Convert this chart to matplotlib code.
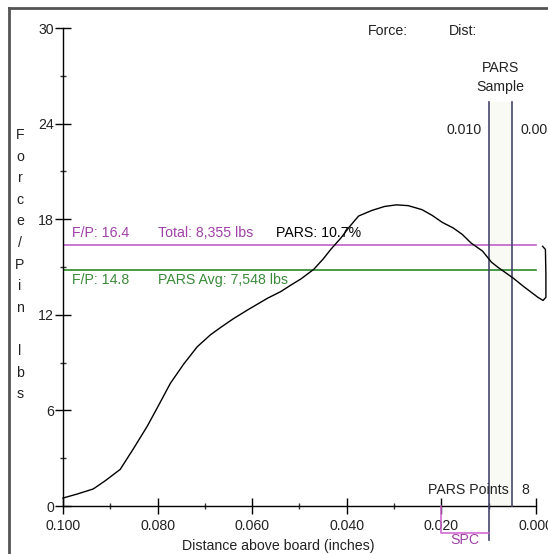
import matplotlib
matplotlib.use("Agg")
import matplotlib.pyplot as plt
from matplotlib.lines import Line2D
import numpy as np

# ---- data ----
dist = [0.1000, 0.0970, 0.0936, 0.0910, 0.0879, 0.0851, 0.0822, 0.0800, 0.0773,
        0.0745, 0.0716, 0.0688, 0.0667, 0.0640, 0.0610, 0.0567, 0.0540, 0.0519,
        0.0497, 0.0470, 0.0450, 0.0434, 0.0413, 0.0395, 0.0375, 0.0347, 0.0320,
        0.0295, 0.0270, 0.0241, 0.0220, 0.0198, 0.0175, 0.0156, 0.0137, 0.0113,
        0.0094, 0.0079, 0.0067, 0.0048, 0.0025, -0.0004, -0.0015, -0.0021,
        -0.0021, -0.0020, -0.0014]
force = [0.5, 0.75, 1.07, 1.6, 2.3, 3.6, 5.0, 6.2, 7.7,
         8.9, 10.0, 10.75, 11.2, 11.75, 12.3, 13.05, 13.45, 13.85,
         14.25, 14.85, 15.5, 16.1, 16.8, 17.5, 18.2, 18.55, 18.8,
         18.9, 18.85, 18.6, 18.25, 17.8, 17.45, 17.05, 16.5, 16.0,
         15.3, 14.95, 14.7, 14.3, 13.75, 13.1, 12.9, 13.1,
         14.5, 16.1, 16.3]

total_fp = 16.4
avg_fp = 14.8
sample_window = [0.010, 0.005]
spc_range = [0.020, 0.010]
xticks = [0.100, 0.080, 0.060, 0.040, 0.020, 0.000]
xtick_labels = ["0.100", "0.080", "0.060", "0.040", "0.020", "0.000"]
yticks = [0, 6, 12, 18, 24, 30]

W, H = 548, 554
FONT = "Liberation Sans"
FS = 10.2
TXT = "#222222"
MAG_LINE = "#c060c8"
MAG_TXT = "#a040a8"
GRN_LINE = "#2a8a2a"
GRN_TXT = "#3a8a3a"
VLINE = "#45456e"

fig = plt.figure(figsize=(W / 100, H / 100), dpi=100)
fig.patch.set_facecolor("white")

ax_l, ax_r, ax_t, ax_b = 63, 548, 28, 506
ax = fig.add_axes([ax_l / W, 1 - ax_b / H, (ax_r - ax_l) / W, (ax_b - ax_t) / H])
ax.set_facecolor("none")
px_per_x = 4715.0
ax.set_xlim(0.100, 0.000 - (ax_r - 536) / px_per_x)
ax.set_ylim(0, 30)

for s in ["top", "right"]:
    ax.spines[s].set_visible(False)
ax.spines["bottom"].set_bounds(0.100, 0.000)
ax.spines["left"].set_bounds(0, 30)
ax.spines["bottom"].set_linewidth(1.0)
ax.spines["left"].set_linewidth(1.0)

ax.set_xticks(xticks)
ax.set_xticklabels(xtick_labels, fontfamily=FONT, fontsize=FS, color=TXT)
ax.set_xticks([0.09, 0.07, 0.05, 0.03, 0.01], minor=True)
ax.set_yticks(yticks)
ax.set_yticklabels([str(v) for v in yticks], fontfamily=FONT, fontsize=FS, color=TXT)
ax.set_yticks([3, 9, 15, 21, 27], minor=True)
ax.tick_params(axis="both", which="major", direction="inout", length=11, width=1.0, color="black")
ax.tick_params(axis="both", which="minor", direction="inout", length=5, width=1.0, color="#333333")
ax.tick_params(axis="y", which="major", pad=1)
ax.tick_params(axis="x", which="major", pad=4)

# shaded sample column
ytop_lines = (ax_b - 102) / ((ax_b - ax_t) / 30)
ax.fill_between(sample_window, [0, 0], [ytop_lines, ytop_lines], color="#fafaf5", zorder=0, lw=0)

# horizontal lines
ax.plot([0.100, 0.000], [total_fp, total_fp], color=MAG_LINE, lw=1.2, zorder=2)
ax.plot([0.100, 0.000], [avg_fp, avg_fp], color=GRN_LINE, lw=1.2, zorder=2)

# vertical sample lines
ax.plot([sample_window[0]] * 2, [ytop_lines, -2.15], color=VLINE, lw=1.2, clip_on=False, zorder=3)
ax.plot([sample_window[1]] * 2, [ytop_lines, 0], color=VLINE, lw=1.2, clip_on=False, zorder=3)

# curve
ax.plot(dist, force, color="black", lw=1.0, zorder=4, clip_on=False)

# SPC bracket
ax.plot([spc_range[0], spc_range[0], spc_range[1]], [0, -1.7, -1.7], color="#d060d0", lw=1.1,
        clip_on=False, zorder=3)
ax.text(0.0150, -2.15, "SPC", ha="center", va="center", fontfamily=FONT, fontsize=FS,
        color=MAG_TXT)

# annotations
ax.text(0.0982, 17.15, "F/P: 16.4", ha="left", va="center", fontfamily=FONT, fontsize=FS, color=MAG_TXT)
ax.text(0.0800, 17.15, "Total: 8,355 lbs", ha="left", va="center", fontfamily=FONT, fontsize=FS, color=MAG_TXT)
ax.text(0.0550, 17.15, "PARS: 10.7%", ha="left", va="center", fontfamily=FONT, fontsize=FS, color="black")
ax.text(0.0982, 14.2, "F/P: 14.8", ha="left", va="center", fontfamily=FONT, fontsize=FS, color=GRN_TXT)
ax.text(0.0800, 14.2, "PARS Avg: 7,548 lbs", ha="left", va="center", fontfamily=FONT, fontsize=FS, color=GRN_TXT)

ax.text(0.0114, 23.6, "0.010", ha="right", va="center", fontfamily=FONT, fontsize=FS, color=TXT)
ax.text(0.0033, 23.6, "0.005", ha="left", va="center", fontfamily=FONT, fontsize=FS, color=TXT)
ax.text(0.0075, 27.5, "PARS", ha="center", va="center", fontfamily=FONT, fontsize=FS, color=TXT)
ax.text(0.0075, 26.3, "Sample", ha="center", va="center", fontfamily=FONT, fontsize=FS, color=TXT)
ax.text(0.0356, 29.8, "Force:", ha="left", va="center", fontfamily=FONT, fontsize=FS, color=TXT)
ax.text(0.0185, 29.8, "Dist:", ha="left", va="center", fontfamily=FONT, fontsize=FS, color=TXT)
ax.text(0.0228, 1.0, "PARS Points", ha="left", va="center", fontfamily=FONT, fontsize=FS, color=TXT)
ax.text(0.0030, 1.0, "8", ha="left", va="center", fontfamily=FONT, fontsize=FS, color=TXT)

# x label
fig.text(278 / W, 1 - 546 / H, "Distance above board (inches)", ha="center", va="center",
         fontfamily=FONT, fontsize=FS, color=TXT)

# stacked y label
ylab = list("Force/Pin") + [" "] + list("lbs")
for i, ch in enumerate(ylab):
    fig.text(20 / W, 1 - (135 + 21.6 * i) / H, ch, ha="center", va="center",
             fontfamily=FONT, fontsize=FS, color=TXT)

# window border
fig.add_artist(Line2D([9 / W, 9 / W], [0, 1 - 8 / H], color="#555555", lw=2, transform=fig.transFigure))
fig.add_artist(Line2D([9 / W, 1], [1 - 8 / H, 1 - 8 / H], color="#555555", lw=2, transform=fig.transFigure))

fig.savefig("out.png", dpi=100, facecolor="white")
